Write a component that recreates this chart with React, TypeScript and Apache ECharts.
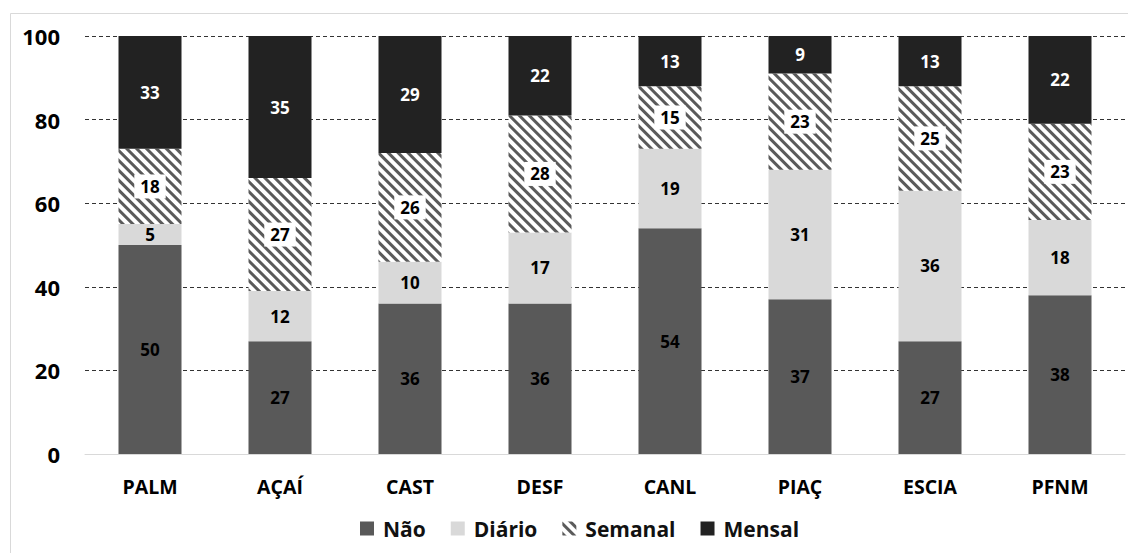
import React, { useEffect, useRef } from "react";
import * as echarts from "echarts";

// Sites surveyed
const categories = ["PALM", "AÇAÍ", "CAST", "DESF", "CANL", "PIAÇ", "ESCIA", "PFNM"];

// Share of answers (%) per frequency
const nao = [50, 27, 36, 36, 54, 37, 27, 38];
const diario = [5, 12, 10, 17, 19, 31, 36, 18];
const semanal = [18, 27, 26, 28, 15, 23, 25, 23];
const mensal = [33, 35, 29, 22, 13, 9, 13, 22];

const seriesNames = ["Não", "Diário", "Semanal", "Mensal"];
const yTicks = [0, 20, 40, 60, 80, 100];

const FONT = "'Open Sans', Lato, sans-serif";

export default function App() {
  const ref = useRef<HTMLDivElement>(null);

  useEffect(() => {
    if (!ref.current) return;
    const chart = echarts.init(ref.current, null, { renderer: "svg" });

    const labelBase = {
      show: true,
      position: "inside" as const,
      fontFamily: FONT,
      fontWeight: "bold" as const,
      fontSize: 17,
    };

    chart.setOption({
      animation: false,
      backgroundColor: "#ffffff",
      textStyle: { fontFamily: FONT },
      graphic: [
        {
          type: "rect",
          left: 8,
          top: 11,
          shape: { width: 1300, height: 700 },
          style: { fill: "none", stroke: "#d9d9d9", lineWidth: 1 },
          silent: true,
          z: -1,
        },
      ],
      grid: { left: 85, right: 3, top: 36, bottom: 99, containLabel: false },
      legend: {
        bottom: 9,
        left: 355,
        icon: "rect",
        itemWidth: 14,
        itemHeight: 14,
        itemGap: 25,
        data: seriesNames,
        textStyle: {
          fontFamily: FONT,
          fontWeight: "bold",
          fontSize: 21,
          color: "#111",
          padding: [0, 0, 0, 4],
        },
      },
      xAxis: {
        type: "category",
        data: categories,
        axisTick: { show: false },
        axisLine: { lineStyle: { color: "#d9d9d9", width: 1 } },
        axisLabel: {
          margin: 22,
          fontFamily: FONT,
          fontWeight: "bold",
          fontSize: 19.5,
          color: "#000",
        },
      },
      yAxis: {
        type: "value",
        min: yTicks[0],
        max: yTicks[yTicks.length - 1],
        interval: yTicks[1] - yTicks[0],
        axisLine: { show: false },
        axisTick: { show: false },
        axisLabel: {
          margin: 25,
          fontFamily: FONT,
          fontWeight: "bold",
          fontSize: 22,
          color: "#000",
        },
        splitLine: {
          lineStyle: { color: "#333", type: [4, 3], width: 1 },
        },
      },
      series: [
        {
          name: seriesNames[0],
          type: "bar",
          stack: "total",
          barWidth: 63,
          clip: true,
          data: nao,
          itemStyle: { color: "#595959" },
          label: { ...labelBase, color: "#000" },
        },
        {
          name: seriesNames[1],
          type: "bar",
          stack: "total",
          barWidth: 63,
          clip: true,
          data: diario,
          itemStyle: { color: "#d9d9d9" },
          label: { ...labelBase, color: "#000" },
        },
        {
          name: seriesNames[2],
          type: "bar",
          stack: "total",
          barWidth: 63,
          clip: true,
          data: semanal,
          itemStyle: {
            color: "#ffffff",
            decal: {
              symbol: "rect",
              symbolSize: 1,
              color: "#5a5a5a",
              backgroundColor: "#ffffff",
              dashArrayX: [1, 0],
              dashArrayY: [3, 3.3],
              rotation: Math.PI / 4,
            },
          },
          label: {
            ...labelBase,
            color: "#000",
            backgroundColor: "#ffffff",
            padding: [4, 6, 3, 6],
          },
        },
        {
          name: seriesNames[3],
          type: "bar",
          stack: "total",
          barWidth: 63,
          clip: true,
          data: mensal,
          itemStyle: { color: "#222222" },
          label: { ...labelBase, color: "#ffffff" },
        },
      ],
    });

    return () => chart.dispose();
  }, []);

  return (
    <div
      ref={ref}
      style={{ position: "absolute", left: 0, top: 0, width: 1128, height: 553 }}
    />
  );
}
